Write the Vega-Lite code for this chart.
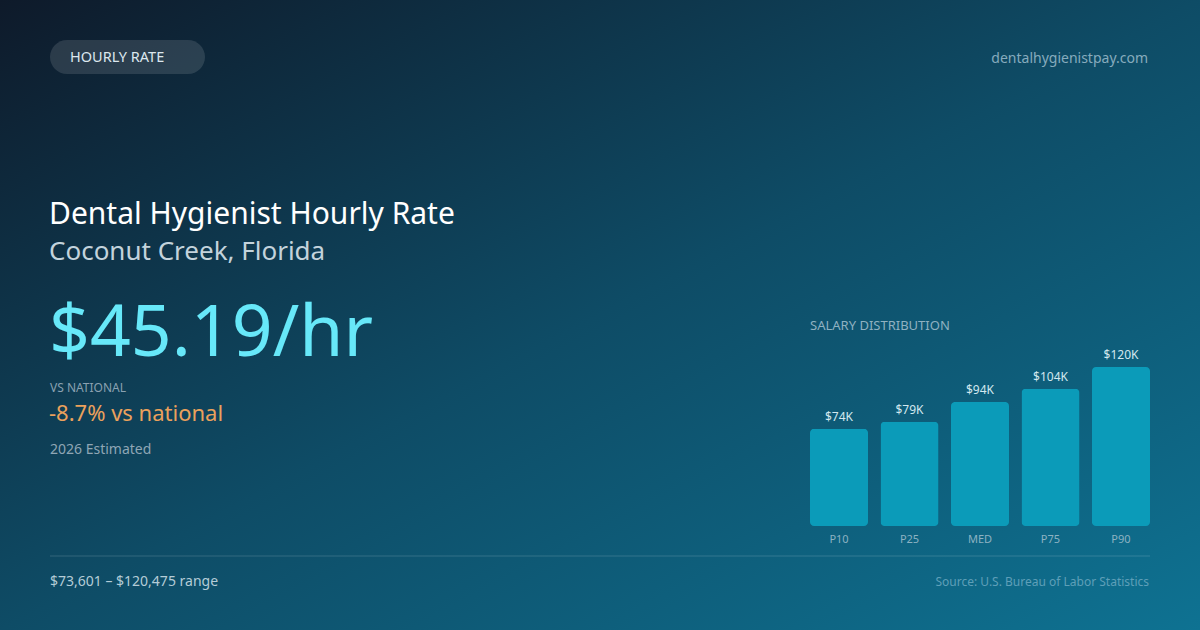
{
  "$schema": "https://vega.github.io/schema/vega-lite/v6.json",
  "width": 1200,
  "height": 630,
  "autosize": {"type": "fit", "contains": "padding"},
  "padding": 0,
  "background": "#0e3a52",
  "view": {
    "stroke": null,
    "fill": {
      "gradient": "linear",
      "x1": 0, "y1": 0, "x2": 1, "y2": 1,
      "stops": [
        {"offset": 0, "color": "#0e1a2a"},
        {"offset": 0.5, "color": "#0e4c66"},
        {"offset": 1, "color": "#0e7292"}
      ]
    }
  },
  "config": {"font": "Noto Sans", "view": {"stroke": null}, "text": {"baseline": "alphabetic"}},
  "datasets": {
    "labels": [
      {"role": "badge", "text": "HOURLY RATE"},
      {"role": "site", "text": "dentalhygienistpay.com"},
      {"role": "title", "text": "Dental Hygienist Hourly Rate"},
      {"role": "place", "text": "Coconut Creek, Florida"},
      {"role": "rate", "text": "$45.19/hr"},
      {"role": "vsLabel", "text": "VS NATIONAL"},
      {"role": "vs", "text": "-8.7% vs national"},
      {"role": "year", "text": "2026 Estimated"},
      {"role": "chartTitle", "text": "SALARY DISTRIBUTION"},
      {"role": "range", "text": "$73,601 – $120,475 range"},
      {"role": "source", "text": "Source: U.S. Bureau of Labor Statistics"}
    ],
    "pay": [
      {"pct": "P10", "salary": 73601, "label": "$74K"},
      {"pct": "P25", "salary": 79000, "label": "$79K"},
      {"pct": "MED", "salary": 93995, "label": "$94K"},
      {"pct": "P75", "salary": 104000, "label": "$104K"},
      {"pct": "P90", "salary": 120475, "label": "$120K"}
    ]
  },
  "resolve": {"scale": {"x": "independent", "y": "independent"}},
  "layer": [
    {
      "data": {"name": "labels"},
      "layer": [
        {
          "transform": [{"filter": "datum.role === 'badge'"}],
          "mark": {"type": "rect", "cornerRadius": 17, "fill": "#ffffff", "fillOpacity": 0.12},
          "encoding": {
            "x": {"datum": 50, "type": "quantitative", "scale": {"domain": [0, 1200], "range": [0, 1200], "nice": false}, "axis": null},
            "x2": {"datum": 205},
            "y": {"datum": 40, "type": "quantitative", "scale": {"domain": [0, 630], "range": [0, 630], "nice": false}, "axis": null},
            "y2": {"datum": 74}
          }
        },
        {
          "transform": [{"filter": "datum.role === 'badge'"}],
          "mark": {"type": "text", "align": "left", "fontSize": 14.5, "color": "#dce7ee"},
          "encoding": {
            "x": {"datum": 70, "type": "quantitative", "axis": null},
            "y": {"datum": 62, "type": "quantitative", "axis": null},
            "text": {"field": "text"}
          }
        },
        {
          "transform": [{"filter": "datum.role === 'site'"}],
          "mark": {"type": "text", "align": "right", "fontSize": 14, "color": "#86abbd"},
          "encoding": {
            "x": {"datum": 1148, "type": "quantitative", "axis": null},
            "y": {"datum": 63, "type": "quantitative", "axis": null},
            "text": {"field": "text"}
          }
        },
        {
          "transform": [{"filter": "datum.role === 'title'"}],
          "mark": {"type": "text", "align": "left", "fontSize": 30, "color": "#ffffff"},
          "encoding": {
            "x": {"datum": 49, "type": "quantitative", "axis": null},
            "y": {"datum": 224, "type": "quantitative", "axis": null},
            "text": {"field": "text"}
          }
        },
        {
          "transform": [{"filter": "datum.role === 'place'"}],
          "mark": {"type": "text", "align": "left", "fontSize": 26, "color": "#c3d3dc"},
          "encoding": {
            "x": {"datum": 49, "type": "quantitative", "axis": null},
            "y": {"datum": 260, "type": "quantitative", "axis": null},
            "text": {"field": "text"}
          }
        },
        {
          "transform": [{"filter": "datum.role === 'rate'"}],
          "mark": {"type": "text", "align": "left", "fontSize": 71.5, "color": "#67e8f9"},
          "encoding": {
            "x": {"datum": 49, "type": "quantitative", "axis": null},
            "y": {"datum": 356, "type": "quantitative", "axis": null},
            "text": {"field": "text"}
          }
        },
        {
          "transform": [{"filter": "datum.role === 'vsLabel'"}],
          "mark": {"type": "text", "align": "left", "fontSize": 12, "color": "#8aa1b1"},
          "encoding": {
            "x": {"datum": 50, "type": "quantitative", "axis": null},
            "y": {"datum": 392, "type": "quantitative", "axis": null},
            "text": {"field": "text"}
          }
        },
        {
          "transform": [{"filter": "datum.role === 'vs'"}],
          "mark": {"type": "text", "align": "left", "fontSize": 22, "color": "#eba15c"},
          "encoding": {
            "x": {"datum": 49, "type": "quantitative", "axis": null},
            "y": {"datum": 421, "type": "quantitative", "axis": null},
            "text": {"field": "text"}
          }
        },
        {
          "transform": [{"filter": "datum.role === 'year'"}],
          "mark": {"type": "text", "align": "left", "fontSize": 14, "color": "#8fa6b5"},
          "encoding": {
            "x": {"datum": 50, "type": "quantitative", "axis": null},
            "y": {"datum": 454, "type": "quantitative", "axis": null},
            "text": {"field": "text"}
          }
        },
        {
          "transform": [{"filter": "datum.role === 'chartTitle'"}],
          "mark": {"type": "text", "align": "left", "fontSize": 13, "color": "#8fb1c1"},
          "encoding": {
            "x": {"datum": 810, "type": "quantitative", "axis": null},
            "y": {"datum": 330, "type": "quantitative", "axis": null},
            "text": {"field": "text"}
          }
        },
        {
          "transform": [{"filter": "datum.role === 'range'"}],
          "mark": {"type": "rule", "stroke": "#ffffff", "strokeOpacity": 0.16, "strokeWidth": 1},
          "encoding": {
            "x": {"datum": 50, "type": "quantitative", "axis": null},
            "x2": {"datum": 1150},
            "y": {"datum": 556, "type": "quantitative", "axis": null}
          }
        },
        {
          "transform": [{"filter": "datum.role === 'range'"}],
          "mark": {"type": "text", "align": "left", "fontSize": 14, "color": "#b4ccd7"},
          "encoding": {
            "x": {"datum": 50, "type": "quantitative", "axis": null},
            "y": {"datum": 586, "type": "quantitative", "axis": null},
            "text": {"field": "text"}
          }
        },
        {
          "transform": [{"filter": "datum.role === 'source'"}],
          "mark": {"type": "text", "align": "right", "fontSize": 12, "color": "#5e9fb8"},
          "encoding": {
            "x": {"datum": 1149, "type": "quantitative", "axis": null},
            "y": {"datum": 586, "type": "quantitative", "axis": null},
            "text": {"field": "text"}
          }
        }
      ]
    },
    {
      "data": {"name": "pay"},
      "encoding": {
        "x": {
          "field": "pct",
          "type": "nominal",
          "sort": null,
          "scale": {"type": "band", "range": [810, 1150], "paddingInner": 0.177, "paddingOuter": 0},
          "axis": null
        }
      },
      "layer": [
        {
          "mark": {"type": "bar", "cornerRadius": 4, "color": "#0b9bb9"},
          "encoding": {
            "y": {
              "field": "salary",
              "type": "quantitative",
              "scale": {"domain": [0, 120475], "range": [526, 367], "nice": false},
              "axis": null
            }
          }
        },
        {
          "mark": {"type": "text", "dy": -8, "fontSize": 12, "color": "#d3e8ef"},
          "encoding": {
            "y": {"field": "salary", "type": "quantitative"},
            "text": {"field": "label"}
          }
        },
        {
          "mark": {"type": "text", "dy": 17, "fontSize": 11, "color": "#8cb2c2"},
          "encoding": {
            "y": {"datum": 0, "type": "quantitative"},
            "text": {"field": "pct"}
          }
        }
      ]
    }
  ]
}
